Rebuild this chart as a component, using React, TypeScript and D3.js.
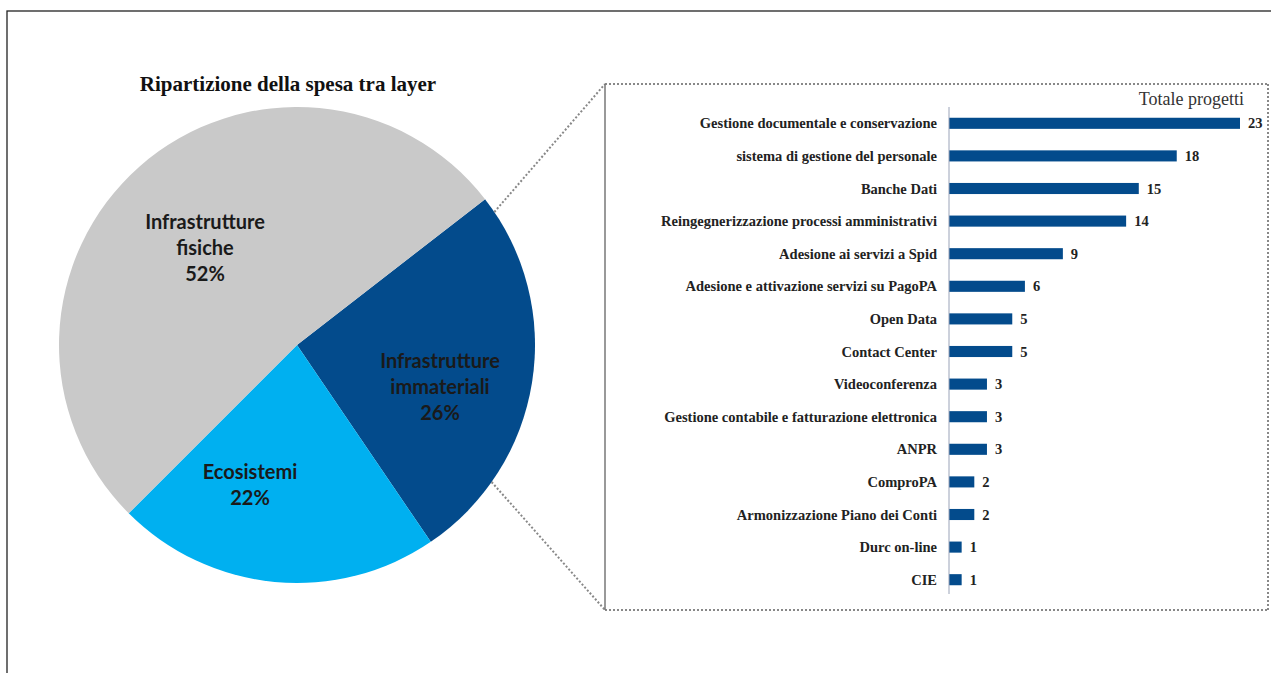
import React from "react";
import * as d3 from "d3";

const pieLabels = ["Infrastrutture immateriali", "Ecosistemi", "Infrastrutture fisiche"];
const pieValues = [26, 22, 52];
const pieColors = ["#034b8c", "#00b0f0", "#c9c9c9"];

const barCategories = [
  "Gestione documentale e conservazione",
  "sistema di gestione del personale",
  "Banche Dati",
  "Reingegnerizzazione processi amministrativi",
  "Adesione ai servizi a Spid",
  "Adesione e attivazione servizi su PagoPA",
  "Open Data",
  "Contact Center",
  "Videoconferenza",
  "Gestione contabile e fatturazione elettronica",
  "ANPR",
  "ComproPA",
  "Armonizzazione Piano dei Conti",
  "Durc on-line",
  "CIE",
];
const barValues = [23, 18, 15, 14, 9, 6, 5, 5, 3, 3, 3, 2, 2, 1, 1];

const W = 1271;
const H = 673;

export default function App() {
  const cx = 297;
  const cy = 345;
  const r = 238;
  const start = (52.2 * Math.PI) / 180;
  const pie = d3
    .pie<number>()
    .sort(null)
    .startAngle(start)
    .endAngle(start + 2 * Math.PI)(pieValues);
  const arc = d3.arc<d3.PieArcDatum<number>>().innerRadius(0).outerRadius(r);

  const labelPos: [number, number][] = [
    [440, 361],
    [250, 472],
    [205, 222],
  ];
  const labelLines = [
    ["Infrastrutture", "immateriali", "26%"],
    ["Ecosistemi", "22%"],
    ["Infrastrutture", "fisiche", "52%"],
  ];

  // bar panel
  const x0 = 949;
  const x = d3.scaleLinear().domain([0, 23]).range([x0, 1240]);
  const y = d3.scaleBand().domain(barCategories).range([107, 596]).paddingInner(0.66).paddingOuter(0.33);

  const boxL = 605, boxT = 84, boxR = 1268, boxB = 610;
  const ptTop: [number, number] = [cx + Math.sqrt(r * r - 133 * 133), cy - 133];
  const ptBot: [number, number] = [cx + Math.sqrt(r * r - 137 * 137), cy + 137];

  return (
    <svg
      width={W}
      height={H}
      style={{ position: "absolute", left: 0, top: 0, background: "#fff" }}
    >
      <rect x={7} y={11} width={W + 20} height={H + 20} fill="none" stroke="#222" strokeWidth={1.3} />
      <text
        x={288}
        y={91}
        textAnchor="middle"
        fontFamily="'Liberation Serif', 'Times New Roman', serif"
        fontWeight="bold"
        fontSize={21}
        fill="#111"
      >
        Ripartizione della spesa tra layer
      </text>
      <g transform={`translate(${cx},${cy})`}>
        {pie.map((d, i) => (
          <path key={i} d={arc(d) || ""} fill={pieColors[i]} />
        ))}
      </g>
      {labelLines.map((lines, i) => (
        <text
          key={i}
          textAnchor="middle"
          fontFamily="Lato, 'Open Sans', sans-serif"
          fontWeight="bold"
          fontSize={20}
          fill="#1a1a1a"
        >
          {lines.map((t, j) => (
            <tspan key={j} x={labelPos[i][0]} y={labelPos[i][1] + 7 + j * 26}>
              {t}
            </tspan>
          ))}
        </text>
      ))}
      {/* connector lines */}
      <line x1={ptTop[0]} y1={ptTop[1]} x2={boxL} y2={boxT} stroke="#888" strokeWidth={2} strokeDasharray="2,2" />
      <line x1={ptBot[0]} y1={ptBot[1]} x2={boxL} y2={boxB} stroke="#888" strokeWidth={2} strokeDasharray="2,2" />
      {/* box */}
      <line x1={boxL} y1={boxT} x2={boxR} y2={boxT} stroke="#888" strokeWidth={2} strokeDasharray="2,2" />
      <line x1={boxR} y1={boxT} x2={boxR} y2={boxB} stroke="#888" strokeWidth={2} strokeDasharray="2,2" />
      <line x1={boxL} y1={boxB} x2={boxR} y2={boxB} stroke="#888" strokeWidth={2} strokeDasharray="2,2" />
      <line x1={boxL} y1={boxT} x2={boxL} y2={boxB} stroke="#777" strokeWidth={1.5} />
      <text
        x={1244}
        y={105}
        textAnchor="end"
        fontFamily="'Liberation Serif', 'Times New Roman', serif"
        fontSize={18}
        fill="#333"
      >
        Totale progetti
      </text>
      {barCategories.map((c, i) => {
        const yy = y(c)!;
        const bw = y.bandwidth();
        return (
          <g key={c}>
            <rect x={x0} y={yy} width={x(barValues[i]) - x0} height={bw} fill="#034b8c" />
            <text
              x={937}
              y={yy + bw / 2 + 5}
              textAnchor="end"
              fontFamily="'Liberation Serif', 'Times New Roman', serif"
              fontWeight="bold"
              fontSize={14.5}
              fill="#222"
            >
              {c}
            </text>
            <text
              x={x(barValues[i]) + 8}
              y={yy + bw / 2 + 5}
              fontFamily="'Liberation Serif', 'Times New Roman', serif"
              fontWeight="bold"
              fontSize={14.5}
              fill="#222"
            >
              {barValues[i]}
            </text>
          </g>
        );
      })}
      <line x1={x0} y1={107} x2={x0} y2={594} stroke="#9aa3b8" strokeWidth={1} />
    </svg>
  );
}
